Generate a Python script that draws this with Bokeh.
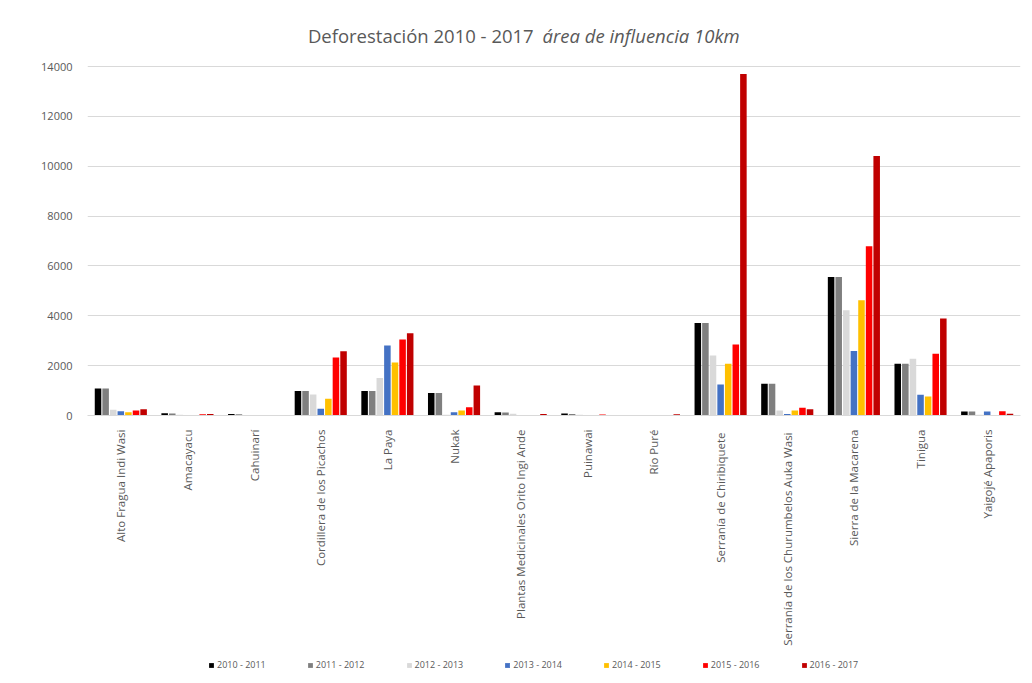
from bokeh.plotting import figure
from bokeh.layouts import column
from bokeh.models import ColumnDataSource, FixedTicker, Legend, LegendItem, Label, Range1d
from bokeh.transform import dodge
from bokeh.embed import file_html
from bokeh.resources import INLINE
import math

areas = [
    "Alto Fragua Indi Wasi", "Amacayacu", "Cahuinarí", "Cordillera de los Picachos",
    "La Paya", "Nukak", "Plantas Medicinales Orito Ingi Ande", "Puinawai", "Río Puré",
    "Serranía de  Chiribiquete", "Serranía de los Churumbelos  Auka Wasi",
    "Sierra de la Macarena", "Tinigua", "Yaigojé Apaporis",
]
periods = ["2010 - 2011", "2011 - 2012", "2012 - 2013", "2013 - 2014",
           "2014 - 2015", "2015 - 2016", "2016 - 2017"]

d_2010_2011 = [1080, 90, 60, 980, 980, 900, 130, 80, 0, 3710, 1270, 5560, 2080, 160]
d_2011_2012 = [1080, 80, 55, 980, 980, 900, 120, 60, 0, 3710, 1270, 5560, 2080, 160]
d_2012_2013 = [230, 30, 20, 840, 1500, 30, 70, 30, 0, 2410, 200, 4220, 2280, 30]
d_2013_2014 = [175, 10, 0, 270, 2810, 130, 10, 5, 0, 1245, 60, 2590, 830, 160]
d_2014_2015 = [130, 10, 0, 670, 2130, 200, 10, 5, 0, 2080, 200, 4620, 760, 20]
d_2015_2016 = [200, 50, 0, 2330, 3050, 330, 20, 40, 0, 2850, 310, 6790, 2480, 175]
d_2016_2017 = [255, 60, 0, 2580, 3300, 1200, 60, 0, 50, 13700, 255, 10410, 3890, 70]

series = [d_2010_2011, d_2011_2012, d_2012_2013, d_2013_2014,
          d_2014_2015, d_2015_2016, d_2016_2017]
colors = ["#000000", "#7f7f7f", "#d9d9d9", "#4472c4", "#ffc000", "#ff0000", "#c00000"]
y_ticks = [0, 2000, 4000, 6000, 8000, 10000, 12000, 14000]

data = {"area": areas}
for i, s in enumerate(series):
    data[f"s{i}"] = s
source = ColumnDataSource(data)

FONT = "Open Sans"
TEXT = "#595959"
SLOT = 0.114


def add_bars(fig):
    rs = []
    for i in range(len(series)):
        rs.append(fig.vbar(x=dodge("area", (i - 3) * SLOT, range=fig.x_range),
                           top=f"s{i}", width=SLOT * 0.86, source=source,
                           fill_color=colors[i], line_color=None))
    return rs


# Main chart: the frame reaches above the last tick so the title sits inside it.
p = figure(
    x_range=areas, y_range=(0, 16050),
    width=1032, height=655,
    output_backend="svg", toolbar_location=None,
    min_border_left=87, min_border_right=12,
    min_border_top=15, min_border_bottom=240,
    background_fill_color="white", border_fill_color="white",
)
p.outline_line_color = None
p.x_range.range_padding = 0.0
add_bars(p)

p.yaxis.ticker = FixedTicker(ticks=y_ticks)
p.yaxis.axis_line_color = None
p.yaxis.major_tick_line_color = None
p.yaxis.minor_tick_line_color = None
p.yaxis.major_label_text_color = TEXT
p.yaxis.major_label_text_font = FONT
p.yaxis.major_label_text_font_size = "11px"
p.yaxis.major_label_standoff = 9

p.xaxis.axis_line_color = "#d9d9d9"
p.xaxis.major_tick_line_color = None
p.xaxis.minor_tick_line_color = None
p.xaxis.major_label_orientation = math.pi / 2
p.xaxis.major_label_text_color = TEXT
p.xaxis.major_label_text_font = FONT
p.xaxis.major_label_text_font_size = "11.5px"
p.xaxis.major_label_standoff = 8

p.xgrid.grid_line_color = None
p.ygrid.grid_line_color = "#d9d9d9"
p.ygrid.ticker = FixedTicker(ticks=y_ticks)

# title: plain part, then the italic part
p.add_layout(Label(x=451, y=380, x_units="screen", y_units="screen",
                   text="Deforestación 2010 - 2017 ", text_align="right",
                   text_baseline="middle", text_font=FONT,
                   text_font_size="18.5px", text_color=TEXT))
p.add_layout(Label(x=455, y=380, x_units="screen", y_units="screen",
                   text="área de influencia 10km", text_align="left",
                   text_baseline="middle", text_font=FONT,
                   text_font_size="18.5px", text_font_style="italic",
                   text_color=TEXT))

# Legend strip under the chart; it shares the categories, and its y window
# lies far above the data so the bars it carries for the swatches stay hidden.
leg = figure(width=1032, height=28, x_range=p.x_range,
             y_range=Range1d(1e7, 1e7 + 1),
             output_backend="svg", toolbar_location=None,
             min_border_left=87, min_border_right=12,
             min_border_top=0, min_border_bottom=0,
             x_axis_location=None, y_axis_location=None,
             background_fill_color="white", border_fill_color="white")
leg.outline_line_color = None
leg.grid.visible = False
swatches = add_bars(leg)

legend = Legend(
    items=[LegendItem(label=periods[i], renderers=[swatches[i]]) for i in range(7)],
    orientation="horizontal", location=(121, 12),
    glyph_width=6, glyph_height=6, label_text_font=FONT,
    label_text_font_size="9px", label_text_color=TEXT,
    spacing=41, padding=2, margin=0, border_line_color=None,
    background_fill_alpha=0, label_standoff=3,
)
leg.add_layout(legend)

layout = column(p, leg, spacing=0)
open("out.html", "w").write(file_html(layout, INLINE))
